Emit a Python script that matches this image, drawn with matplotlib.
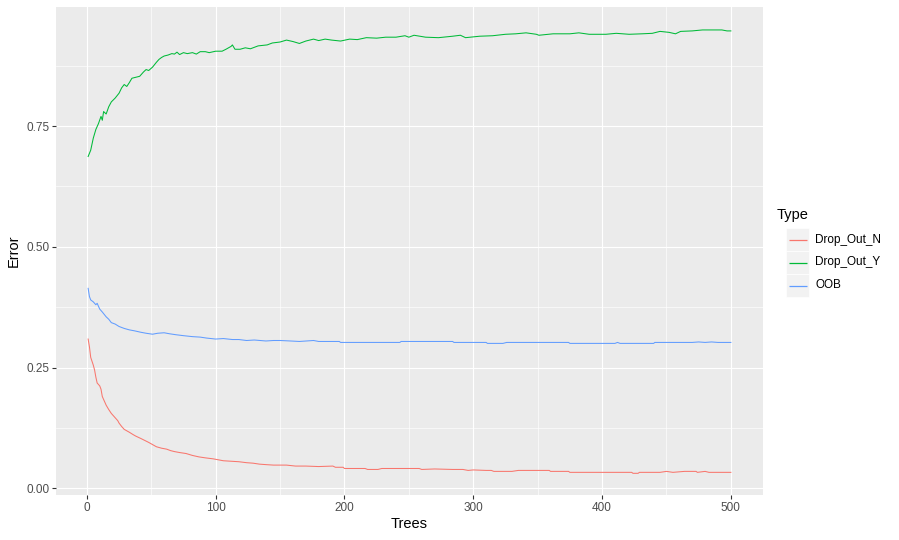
import matplotlib
matplotlib.use("Agg")
import matplotlib.pyplot as plt
from matplotlib.patches import Rectangle
from matplotlib.lines import Line2D

# ---------------- data ----------------
trees_y = [1, 3, 5, 7, 9, 11, 12, 13, 15, 17, 19, 22, 25, 27, 29, 31, 33, 35, 38, 41,
           44, 46, 48, 51, 54, 56, 58, 60, 63, 66, 68, 70, 72, 75, 78, 82, 85, 88, 92, 95,
           100, 105, 108, 112, 113, 115, 119, 123, 127, 133, 140, 144, 150, 155, 160, 165,
           170, 176, 180, 185, 190, 197, 204, 210, 217, 225, 232, 240, 247, 250, 254, 263,
           273, 284, 290, 294, 305, 315, 325, 333, 341, 349, 351, 362, 375, 382, 390, 403,
           411, 421, 431, 439, 445, 452, 457, 461, 470, 478, 488, 493, 497, 500]
err_y = [0.687, 0.700, 0.725, 0.743, 0.755, 0.770, 0.762, 0.780, 0.775, 0.790, 0.800,
         0.808, 0.818, 0.829, 0.836, 0.832, 0.840, 0.849, 0.851, 0.853, 0.862, 0.867,
         0.865, 0.872, 0.882, 0.888, 0.892, 0.895, 0.897, 0.900, 0.899, 0.903, 0.898,
         0.902, 0.900, 0.902, 0.899, 0.904, 0.904, 0.902, 0.905, 0.905, 0.909, 0.915,
         0.918, 0.909, 0.909, 0.912, 0.910, 0.916, 0.918, 0.922, 0.924, 0.928, 0.925,
         0.921, 0.926, 0.930, 0.927, 0.930, 0.928, 0.926, 0.930, 0.929, 0.933, 0.932,
         0.934, 0.934, 0.937, 0.934, 0.938, 0.934, 0.933, 0.936, 0.938, 0.933, 0.936,
         0.937, 0.940, 0.941, 0.943, 0.940, 0.938, 0.941, 0.941, 0.943, 0.940, 0.940,
         0.942, 0.940, 0.941, 0.942, 0.946, 0.944, 0.941, 0.946, 0.947, 0.949, 0.949,
         0.949, 0.947, 0.947]

trees_oob = [1, 2, 3, 5, 7, 8, 10, 12, 15, 17, 19, 22, 25, 29, 33, 37, 42, 46, 51, 55,
             60, 64, 69, 75, 82, 88, 93, 100, 106, 113, 118, 124, 130, 139, 145, 150, 158,
             165, 176, 180, 196, 197, 243, 244, 284, 285, 310, 311, 323, 326, 374, 375,
             410, 412, 414, 440, 441, 470, 475, 480, 485, 490, 500]
err_oob = [0.414, 0.397, 0.390, 0.386, 0.380, 0.383, 0.371, 0.365, 0.355, 0.350, 0.343,
           0.340, 0.335, 0.331, 0.328, 0.326, 0.323, 0.321, 0.319, 0.321, 0.322, 0.320,
           0.318, 0.316, 0.314, 0.313, 0.311, 0.309, 0.310, 0.308, 0.308, 0.306, 0.307,
           0.305, 0.306, 0.306, 0.305, 0.304, 0.306, 0.304, 0.304, 0.302, 0.302, 0.304,
           0.304, 0.302, 0.302, 0.300, 0.300, 0.302, 0.302, 0.300, 0.300, 0.302, 0.300,
           0.300, 0.302, 0.302, 0.303, 0.302, 0.303, 0.302, 0.302]

trees_n = [1, 2, 3, 5, 6, 7, 8, 10, 11, 12, 14, 15, 17, 19, 22, 24, 25, 27, 29, 33, 36,
           38, 42, 45, 48, 50, 54, 58, 62, 65, 68, 72, 77, 82, 87, 92, 98, 102, 106, 112,
           118, 124, 129, 134, 139, 145, 155, 162, 170, 180, 191, 193, 199, 200, 216, 218,
           226, 229, 242, 258, 260, 270, 284, 292, 296, 300, 310, 314, 316, 330, 335, 340,
           351, 359, 360, 374, 375, 390, 423, 424, 428, 429, 445, 450, 455, 464, 473, 474,
           480, 483, 500]
err_n = [0.309, 0.293, 0.271, 0.255, 0.245, 0.230, 0.218, 0.212, 0.205, 0.190, 0.178,
         0.172, 0.163, 0.155, 0.146, 0.140, 0.135, 0.128, 0.122, 0.116, 0.111, 0.108,
         0.103, 0.099, 0.095, 0.092, 0.086, 0.083, 0.081, 0.078, 0.076, 0.074, 0.072,
         0.068, 0.065, 0.063, 0.061, 0.059, 0.057, 0.056, 0.055, 0.053, 0.052, 0.050,
         0.049, 0.048, 0.048, 0.046, 0.046, 0.045, 0.046, 0.0435, 0.0435, 0.041, 0.041,
         0.039, 0.039, 0.041, 0.041, 0.041, 0.039, 0.040, 0.039, 0.039, 0.037, 0.038,
         0.037, 0.037, 0.035, 0.035, 0.037, 0.037, 0.037, 0.037, 0.035, 0.035, 0.033,
         0.033, 0.033, 0.031, 0.031, 0.033, 0.033, 0.035, 0.033, 0.035, 0.035, 0.033,
         0.035, 0.033, 0.033]

series_names = ["Drop_Out_N", "Drop_Out_Y", "OOB"]
series_colors = ["#F8766D", "#00BA38", "#619CFF"]
x_ticks = [0, 100, 200, 300, 400, 500]
y_ticks = [0.00, 0.25, 0.50, 0.75]
y_tick_labels = ["0.00", "0.25", "0.50", "0.75"]

# ---------------- figure ----------------
W, H, DPI = 899, 540, 100
fig = plt.figure(figsize=(W / DPI, H / DPI), dpi=DPI)
fig.patch.set_facecolor("white")
plt.rcParams["font.family"] = ["Liberation Sans", "DejaVu Sans"]

L, R, T, B = 56, 763, 7, 495
ax = fig.add_axes([L / W, (H - B) / H, (R - L) / W, (B - T) / H])
ax.set_facecolor("#EBEBEB")
for s in ax.spines.values():
    s.set_visible(False)

ax.set_xlim(-23.95, 524.95)
ax.set_ylim(-0.0139, 0.9965)

ax.set_xticks(x_ticks)
ax.set_xticks([50, 150, 250, 350, 450], minor=True)
ax.set_yticks(y_ticks)
ax.set_yticklabels(y_tick_labels)
ax.set_yticks([0.125, 0.375, 0.625, 0.875], minor=True)

ax.grid(which="major", color="white", linewidth=0.8)
ax.grid(which="minor", color="white", linewidth=0.45)
ax.set_axisbelow(True)

ax.tick_params(which="major", length=2.64, width=0.8, color="#333333",
               labelsize=8.45, labelcolor="#4D4D4D", pad=2.1)
ax.tick_params(which="minor", length=0)

series = [(trees_n, err_n), (trees_y, err_y), (trees_oob, err_oob)]
for (tx, ty), name, col in zip(series, series_names, series_colors):
    ax.plot(tx, ty, color=col, linewidth=0.75, label=name)

# axis titles
fig.text(409.5 / W, 1 - 524 / H, "Trees", ha="center", va="center",
         fontsize=10.56, color="black")
fig.text(14 / W, 1 - 251 / H, "Error", ha="center", va="center",
         rotation=90, fontsize=10.56, color="black")

# legend (ggplot style)
fig.text(777 / W, 1 - 215 / H, "Type", ha="left", va="center",
         fontsize=10.56, color="black")
key_x0, key_w, key_h = 786, 23, 23
key_y0 = 228
for i, (name, col) in enumerate(zip(series_names, series_colors)):
    ytop = key_y0 + i * key_h
    fig.patches.append(Rectangle((key_x0 / W, 1 - (ytop + key_h) / H),
                                 key_w / W, key_h / H, transform=fig.transFigure,
                                 facecolor="#F2F2F2", edgecolor="white",
                                 linewidth=0.5))
    yc = 1 - (ytop + 11.5) / H
    fig.lines.append(Line2D([(key_x0 + 2.5) / W, (key_x0 + key_w - 2.5) / W],
                            [yc, yc], transform=fig.transFigure, color=col,
                            linewidth=0.9, solid_capstyle="butt"))
    fig.text(815 / W, 1 - (ytop + 11.5) / H, name, ha="left", va="center",
             fontsize=8.45, color="black")

fig.savefig("out.png", dpi=DPI)
